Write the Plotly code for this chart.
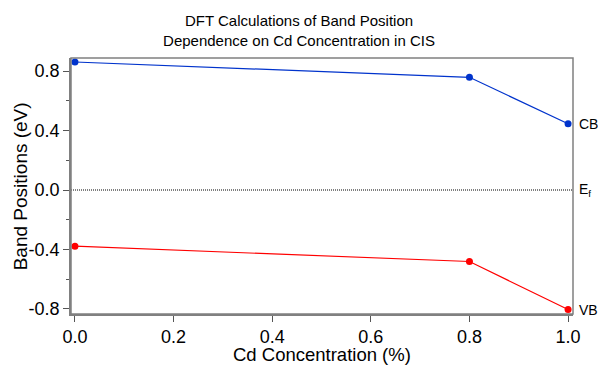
import plotly.graph_objects as go

cd_conc = [0.0, 0.8, 1.0]
cb_vals = [0.861, 0.758, 0.446]
vb_vals = [-0.378, -0.481, -0.804]
ef_val = 0.0
band_labels = ["CB", "E<sub>f</sub>", "VB"]

font = "Liberation Sans, Arial, sans-serif"

fig = go.Figure()
fig.add_trace(go.Scatter(x=[-0.008, 1.01], y=[ef_val, ef_val], mode="lines",
                         line=dict(color="black", width=1, dash="1px,1px"), showlegend=False))
fig.add_trace(go.Scatter(x=cd_conc, y=cb_vals, mode="lines+markers",
                         line=dict(color="#0033cc", width=1.2),
                         marker=dict(color="#0033cc", size=7), showlegend=False))
fig.add_trace(go.Scatter(x=cd_conc, y=vb_vals, mode="lines+markers",
                         line=dict(color="#ff0000", width=1.2),
                         marker=dict(color="#ff0000", size=7), showlegend=False))

for lab, yv in zip(band_labels, [cb_vals[-1], ef_val, vb_vals[-1]]):
    fig.add_annotation(x=1.0, xref="paper", y=yv, yref="y", text=lab,
                       showarrow=False, xanchor="left", xshift=4,
                       font=dict(family=font, size=14, color="black"))

# axis titles
fig.add_annotation(x=0.5, xref="paper", y=-0.157, yref="paper", text="Cd Concentration (%)",
                   showarrow=False, xanchor="center", yanchor="middle",
                   font=dict(family=font, size=18.5, color="black"))
fig.add_annotation(x=-0.101, xref="paper", y=0.5, yref="paper", text="Band Positions (eV)",
                   showarrow=False, xanchor="center", yanchor="middle", textangle=-90,
                   font=dict(family=font, size=19, color="black"))

axis_common = dict(showgrid=False, zeroline=False, ticks="outside", automargin=False,
                   tickcolor="#555", linecolor="#808080", linewidth=1.5, mirror=False,
                   tickfont=dict(family=font, size=18, color="black"))

fig.update_layout(
    width=598, height=365,
    margin=dict(l=71, r=25, t=58, b=51),
    paper_bgcolor="white", plot_bgcolor="white",
    title=dict(text="DFT Calculations of Band Position<br>Dependence on Cd Concentration in CIS",
               x=0.5, xanchor="center", yref="container", y=0.928, yanchor="middle",
               automargin=False,
               font=dict(family=font, size=15, color="black")),
    xaxis=dict(range=[-0.008, 1.01], tickvals=[0, 0.2, 0.4, 0.6, 0.8, 1.0],
               ticktext=["0.0", "0.2", "0.4", "0.6", "0.8", "1.0"], ticklen=6,
               ticklabelstandoff=0,
               **axis_common),
    yaxis=dict(range=[-0.834, 0.888], tickvals=[-0.8, -0.4, 0.0, 0.4, 0.8],
               ticktext=["-0.8", "-0.4", "0.0", "0.4", "0.8"], ticklen=6,
               minor=dict(tickvals=[-0.6, -0.2, 0.2, 0.6], ticks="outside", ticklen=3, tickcolor="#555"),
               **axis_common),
    shapes=[dict(type="rect", xref="paper", yref="paper", x0=0, x1=1, y0=0, y1=1,
                 line=dict(color="#808080", width=1.5), fillcolor="rgba(0,0,0,0)")],
)

fig.write_html("out.html")
